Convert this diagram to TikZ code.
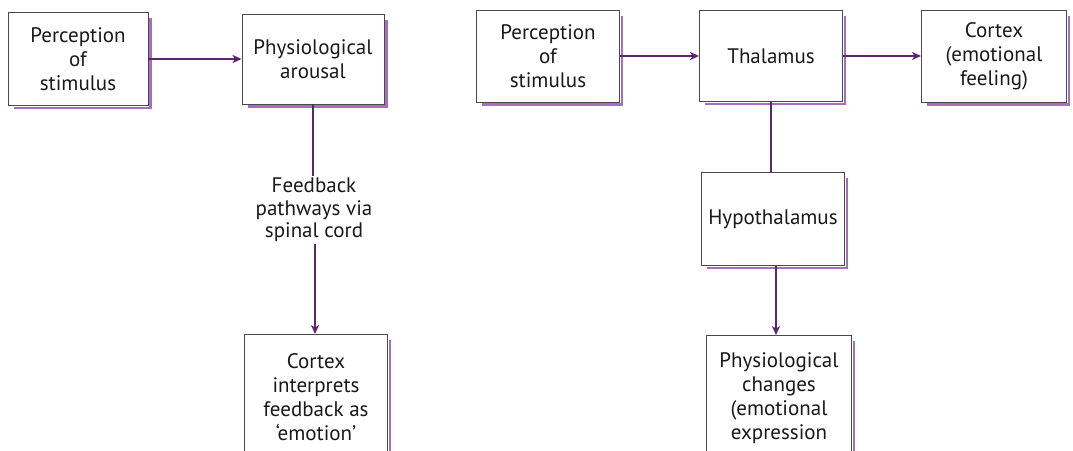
\documentclass[tikz,border=0pt]{standalone}
\usepackage{fontspec}
\setmainfont{PT Sans}
\usetikzlibrary{positioning,arrows.meta}
\definecolor{linkpurple}{HTML}{5B2670}
\definecolor{shadepurple}{HTML}{A470BE}
\definecolor{boxgray}{HTML}{4A4A4A}

\begin{document}
\begin{tikzpicture}[x=1pt,y=-1pt,
  box/.style={draw=boxgray, line width=0.9pt, fill=white, align=center,
    text=black!90, font=\fontsize{21}{24}\selectfont, inner sep=0pt},
  shade/.style={draw=shadepurple, line width=2.5pt},
  label/.style={align=center, text=black!90, font=\fontsize{21}{22.5}\selectfont, inner sep=2pt},
  link/.style={draw=linkpurple, line width=2.4pt},
  tip/.style={link, -{Stealth[length=9pt,width=8pt,inset=2.5pt]}}]
\useasboundingbox[fill=white] (0,0) rectangle (1073,450);

% James-Lange
\node[box, minimum width=140pt, minimum height=93pt] (stimA) at (78,59) {Perception\\of\\stimulus};
\node[box, minimum width=142pt, minimum height=90pt] (arousal) at (313,59) {Physiological\\arousal};
\node[label] (feedback) at (314,210) {Feedback\\pathways via\\spinal cord};
\node[box, minimum width=143pt, minimum height=125pt] (cortexA) at (316,397) {Cortex\\interprets\\feedback as\\‘emotion’};

% Cannon-Bard
\node[box, minimum width=143pt, minimum height=92pt] (stimB) at (548,56) {Perception\\of\\stimulus};
\node[box, minimum width=143pt, minimum height=91pt] (thalamus) at (771,56) {Thalamus};
\node[box, minimum width=145pt, minimum height=92pt] (cortexB) at (994,56) {Cortex\\(emotional\\feeling)};
\node[box, minimum width=143pt, minimum height=93pt] (hypo) at (773,219) {Hypothalamus};
\node[box, minimum width=145pt, minimum height=125pt] (changes) at (779,398) {Physiological\\changes\\(emotional\\expression};

\foreach \n in {stimA,arousal,cortexA,stimB,thalamus,cortexB,hypo,changes}
  \draw[shade] ([shift={(2pt,-6pt)}]\n.north east) |- ([shift={(6pt,-2pt)}]\n.south west);

\draw[tip] (stimA.east) -- (arousal.west);
\draw[link] (arousal.south) -- (arousal.south |- feedback.north);
\draw[tip] ([xshift=1pt]feedback.south) -- ([xshift=1pt]feedback.south |- cortexA.north);

\draw[tip] (stimB.east) -- (thalamus.west);
\draw[tip] (thalamus.east) -- (cortexB.west);
\draw[link] (thalamus.south) -- (thalamus.south |- hypo.north);
\draw[tip] ([xshift=3pt]hypo.south) -- ([xshift=3pt]hypo.south |- changes.north);
\end{tikzpicture}
\end{document}
